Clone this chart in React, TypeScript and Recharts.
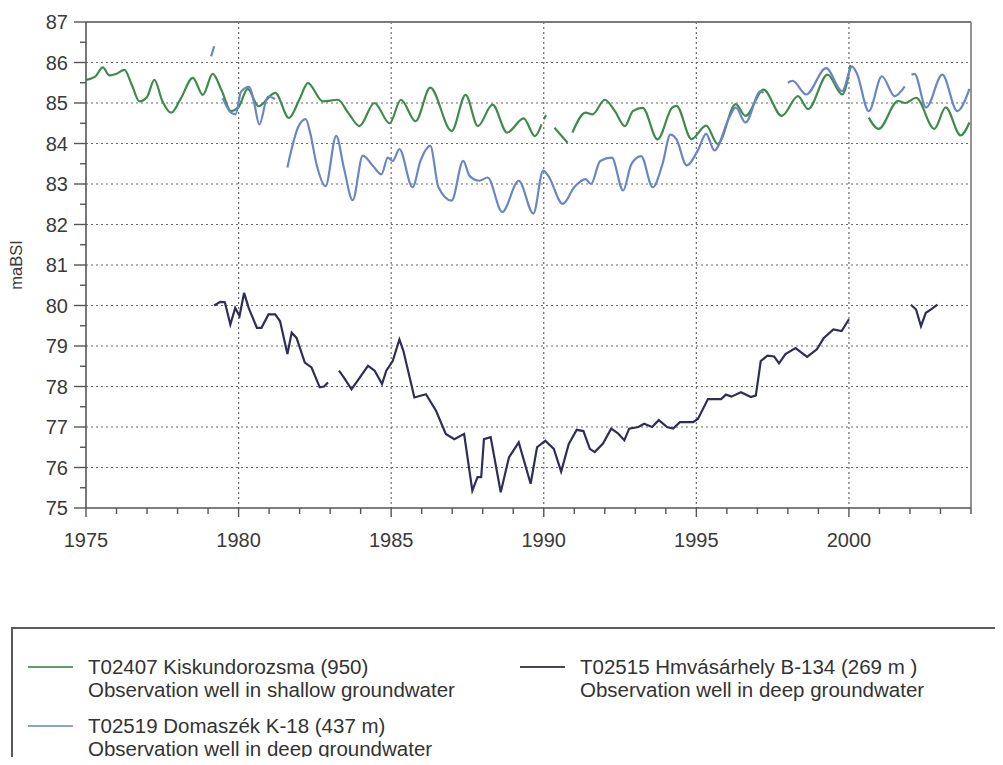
import React from 'react';
import { LineChart, Line, XAxis, YAxis, CartesianGrid, ReferenceLine, Label } from 'recharts';

// T02407 Kiskundorozsma — shallow groundwater (null = missing readings)
const kiskunYears = [
  1975.0, 1975.3, 1975.55, 1975.77, 1976.0, 1976.26, 1976.5, 1976.75, 1977.0, 1977.24,
  1977.5, 1977.79, 1978.1, 1978.5, 1978.83, 1979.15, 1979.45, 1979.75, 1980.0, 1980.3,
  1980.65, 1981.2, 1981.65, 1982.0, 1982.27, 1982.76, 1983.25, 1983.6, 1983.96, 1984.45,
  1984.95, 1985.32, 1985.8, 1986.28, 1986.98, 1987.44, 1987.84, 1988.32, 1988.8, 1989.34,
  1989.71, 1989.93, 1989.98, 1990.0, 1990.08, 1990.15, 1990.35, 1990.78, 1990.85, 1990.94,
  1991.37, 1991.6, 1992.0, 1992.33, 1992.66, 1992.92, 1993.24, 1993.73, 1994.2, 1994.35,
  1994.84, 1995.32, 1995.7, 1996.29, 1996.61, 1997.2, 1997.8, 1998.33, 1998.66, 1999.3,
  1999.78, 2000.05, 2000.3, 2000.65, 2000.97, 2001.61, 2001.85, 2002.2, 2002.8, 2003.17,
  2003.66, 2003.95,
];
const kiskunLevels = [
  85.57, 85.65, 85.88, 85.68, 85.72, 85.82, 85.45, 85.04, 85.15, 85.57,
  85.05, 84.76, 85.1, 85.62, 85.2, 85.72, 85.3, 84.8, 84.9, 85.35,
  84.92, 85.25, 84.63, 85.1, 85.49, 85.04, 85.08, 84.75, 84.43, 85.0,
  84.5, 85.08, 84.55, 85.38, 84.31, 85.2, 84.43, 84.96, 84.27, 84.62,
  84.18, 84.47, null, 84.6, 84.7, null, 84.39, 84.02, null, 84.27,
  84.76, 84.72, 85.08, 84.8, 84.43, 84.8, 84.88, 84.1, 84.88, 84.93,
  84.11, 84.44, 83.99, 84.97, 84.68, 85.33, 84.68, 85.17, 84.85, 85.7,
  85.21, 85.94, null, 84.64, 84.36, 85.05, 85.0, 85.13, 84.36, 84.89,
  84.2, 84.52,
];

// T02519 Domaszék K-18 — deep groundwater
const domaszekYears = [
  1979.1, 1979.2, 1979.3, 1979.48, 1979.75, 1979.9, 1980.08, 1980.35, 1980.5, 1980.68,
  1980.96, 1981.2, 1981.4, 1981.6, 1981.75, 1981.95, 1982.2, 1982.35, 1982.55, 1982.85,
  1983.2, 1983.45, 1983.74, 1984.07, 1984.4, 1984.68, 1984.89, 1985.05, 1985.27, 1985.7,
  1985.96, 1986.28, 1986.55, 1986.98, 1987.36, 1987.57, 1987.89, 1988.16, 1988.64, 1989.18,
  1989.66, 1989.98, 1990.15, 1990.62, 1991.0, 1991.37, 1991.55, 1991.85, 1992.23, 1992.6,
  1992.87, 1993.19, 1993.57, 1993.89, 1994.15, 1994.35, 1994.68, 1995.05, 1995.32, 1995.59,
  1996.08, 1996.29, 1996.61, 1997.1, 1997.2, 1997.5, 1998.0, 1998.15, 1998.6, 1999.25,
  1999.78, 2000.1, 2000.25, 2000.65, 2001.08, 2001.5, 2001.83, 2001.95, 2002.05, 2002.15,
  2002.53, 2003.06, 2003.55, 2003.95,
];
const domaszekLevels = [
  86.15, 86.4, null, 85.12, 84.76, 84.72, 85.28, 85.4, 85.04, 84.47,
  85.16, 85.1, null, 83.41, 83.9, 84.4, 84.6, 84.25, 83.5, 82.95,
  84.19, 83.4, 82.6, 83.7, 83.45, 83.24, 83.65, 83.57, 83.86, 82.92,
  83.57, 83.94, 82.92, 82.59, 83.57, 83.2, 83.08, 83.16, 82.31, 83.08,
  82.27, 83.33, 83.2, 82.51, 82.92, 83.12, 83.0, 83.57, 83.65, 82.84,
  83.49, 83.69, 82.92, 83.49, 84.22, 84.1, 83.46, 83.83, 84.24, 83.83,
  84.64, 84.89, 84.52, 85.29, 85.25, null, 85.5, 85.55, 85.21, 85.86,
  85.29, 85.9, 85.75, 84.8, 85.66, 85.17, 85.41, null, 85.7, 85.72,
  84.89, 85.7, 84.8, 85.35,
];

// T02515 Hmvásárhely B-134 — deep groundwater
const hmvYears = [
  1979.2, 1979.4, 1979.55, 1979.73, 1979.89, 1980.03, 1980.18, 1980.33, 1980.6, 1980.75,
  1980.98, 1981.2, 1981.36, 1981.6, 1981.74, 1981.9, 1982.17, 1982.39, 1982.66, 1982.8,
  1982.93, 1983.1, 1983.29, 1983.47, 1983.7, 1983.97, 1984.24, 1984.46, 1984.7, 1984.84,
  1985.05, 1985.27, 1985.4, 1985.76, 1986.14, 1986.47, 1986.79, 1987.07, 1987.39, 1987.66,
  1987.83, 1987.95, 1988.04, 1988.26, 1988.59, 1988.86, 1989.18, 1989.57, 1989.78, 1990.05,
  1990.33, 1990.57, 1990.82, 1991.08, 1991.3, 1991.51, 1991.67, 1991.94, 1992.21, 1992.42,
  1992.64, 1992.8, 1993.1, 1993.29, 1993.55, 1993.77, 1994.04, 1994.24, 1994.46, 1994.89,
  1995.05, 1995.38, 1995.81, 1995.97, 1996.15, 1996.46, 1996.79, 1996.95, 1997.11, 1997.33,
  1997.55, 1997.71, 1997.92, 1998.25, 1998.63, 1998.95, 1999.17, 1999.49, 1999.76, 2000.0,
  2001.0, 2002.03, 2002.2, 2002.36, 2002.52, 2002.68, 2002.9,
];
const hmvLevels = [
  80.0, 80.09, 80.08, 79.53, 79.94, 79.74, 80.31, 79.94, 79.45, 79.45,
  79.78, 79.78, 79.61, 78.8, 79.33, 79.2, 78.59, 78.47, 77.98, 78.0,
  78.1, null, 78.39, 78.2, 77.93, 78.22, 78.51, 78.39, 78.06, 78.39,
  78.63, 79.16, 78.88, 77.73, 77.81, 77.4, 76.83, 76.7, 76.83, 75.43,
  75.76, 75.76, 76.7, 76.75, 75.39, 76.25, 76.62, 75.6, 76.5, 76.66,
  76.46, 75.9, 76.58, 76.93, 76.9, 76.46, 76.38, 76.59, 76.96, 76.85,
  76.67, 76.96, 77.0, 77.08, 77.0, 77.17, 77.0, 76.96, 77.12, 77.12,
  77.2, 77.69, 77.69, 77.8, 77.75, 77.86, 77.74, 77.78, 78.63, 78.76,
  78.74, 78.57, 78.8, 78.95, 78.73, 78.92, 79.19, 79.41, 79.37, 79.66,
  null, 80.02, 79.9, 79.49, 79.82, 79.9, 80.02,
];

const xTicks = Array.from({ length: 30 }, (_, i) => 1975 + i);
const yTicks = Array.from({ length: 25 }, (_, i) => 75 + i * 0.5);
const hGrid = [76, 77, 78, 79, 80, 81, 82, 83, 84, 85, 86];
const vGrid = [1980, 1985, 1990, 1995, 2000];

const toPoints = (years: number[], levels: (number | null)[]) =>
  years.map((t, i) => ({ t, v: levels[i] }));

const FONT = '"Liberation Sans", Arial, Helvetica, sans-serif';
const AXIS = '#555';

const series = [
  {
    key: 'kiskun',
    name: 'T02407 Kiskundorozsma (950)',
    note: 'Observation well in shallow groundwater',
    color: '#3f8b4b',
    legendColor: '#5f9f66',
    curve: 'monotone' as const,
    data: toPoints(kiskunYears, kiskunLevels),
    legendPos: { left: 20, top: 647 },
  },
  {
    key: 'domaszek',
    name: 'T02519 Domaszék K-18 (437 m)',
    note: 'Observation well in deep groundwater',
    color: '#6b86c6',
    legendColor: '#8ea2d2',
    curve: 'monotone' as const,
    data: toPoints(domaszekYears, domaszekLevels),
    legendPos: { left: 20, top: 706 },
  },
  {
    key: 'hmv',
    name: 'T02515 Hmvásárhely B-134 (269 m )',
    note: 'Observation well in deep groundwater',
    color: '#2e2e58',
    legendColor: '#45455e',
    curve: 'linear' as const,
    data: toPoints(hmvYears, hmvLevels),
    legendPos: { left: 512, top: 647 },
  },
];

const XTick = (props: any) => {
  const { x, y, payload } = props;
  const major = payload.value % 5 === 0;
  return (
    <g>
      <line x1={x} x2={x} y1={y} y2={y + (major ? 9 : 6)} stroke={AXIS} strokeWidth={1.4} />
      {major && (
        <text x={x} y={y + 32} dy="0.35em" textAnchor="middle" fontSize={20} fill="#3a3a3a" fontFamily={FONT}>
          {payload.value}
        </text>
      )}
    </g>
  );
};

const YTick = (props: any) => {
  const { x, y, payload } = props;
  const major = Number.isInteger(payload.value);
  return (
    <g>
      <line x1={x - (major ? 12 : 6)} x2={x} y1={y} y2={y} stroke={AXIS} strokeWidth={1.4} />
      {major && (
        <text x={x - 18} y={y} dy="0.35em" textAnchor="end" fontSize={20} fill="#3a3a3a" fontFamily={FONT}>
          {payload.value}
        </text>
      )}
    </g>
  );
};

const renderYLabel = (props: any) => {
  const vb = props.viewBox || { x: 0, y: 0, width: 0, height: 0 };
  const cx = vb.x + 8;
  const cy = vb.y + vb.height / 2;
  return (
    <text
      x={cx}
      y={cy}
      transform={`rotate(-90 ${cx} ${cy})`}
      textAnchor="middle"
      dominantBaseline="central"
      fontSize={16.5}
      fill="#3a3a3a"
      fontFamily={FONT}
    >
      maBSI
    </text>
  );
};

export default function App() {
  return (
    <div style={{ position: 'relative', width: 987, height: 749, fontFamily: FONT }}>
      <LineChart width={987} height={560} margin={{ top: 14, right: 24, left: 0, bottom: 0 }}>
        <CartesianGrid
          horizontal
          vertical
          horizontalValues={hGrid}
          verticalValues={vGrid}
          stroke="#6a6a6a"
          strokeWidth={1.2}
          strokeDasharray="2 3"
        />
        <XAxis
          dataKey="t"
          type="number"
          domain={[1975, 2004]}
          ticks={xTicks}
          interval={0}
          allowDataOverflow
          height={60}
          tickSize={0}
          tickMargin={0}
          tickLine={false}
          tick={<XTick />}
          axisLine={{ stroke: AXIS, strokeWidth: 1.6 }}
        />
        <YAxis
          type="number"
          domain={[75, 87]}
          ticks={yTicks}
          interval={0}
          allowDataOverflow
          width={78}
          tickSize={0}
          tickMargin={0}
          tickLine={false}
          tick={<YTick />}
          axisLine={{ stroke: AXIS, strokeWidth: 1.6 }}
        >
          <Label content={renderYLabel} />
        </YAxis>
        <ReferenceLine y={87} stroke="#7a7a7a" strokeWidth={2} />
        <ReferenceLine x={2004} stroke="#7a7a7a" strokeWidth={1.6} />
        {series.map((s) => (
          <Line
            key={s.key}
            data={s.data}
            dataKey="v"
            name={s.name}
            type={s.curve}
            stroke={s.color}
            strokeWidth={2.2}
            dot={false}
            activeDot={false}
            connectNulls={false}
            isAnimationActive={false}
          />
        ))}
      </LineChart>

      {/* legend frame */}
      <div
        style={{
          position: 'absolute',
          left: 3,
          top: 619,
          width: 992,
          height: 138,
          boxSizing: 'border-box',
          borderTop: '2px solid #5a5a5a',
          borderLeft: '2px solid #5a5a5a',
          borderBottom: '1px solid #9a9a9a',
        }}
      />
      {series.map((s) => (
        <div
          key={s.key}
          style={{ position: 'absolute', left: s.legendPos.left, top: s.legendPos.top, display: 'flex' }}
        >
          <div style={{ width: 45, height: 2, background: s.legendColor, marginTop: 11 }} />
          <div style={{ marginLeft: 15, fontSize: 20.5, lineHeight: '23px', color: '#333', whiteSpace: 'nowrap' }}>
            <div>{s.name}</div>
            <div>{s.note}</div>
          </div>
        </div>
      ))}
    </div>
  );
}
